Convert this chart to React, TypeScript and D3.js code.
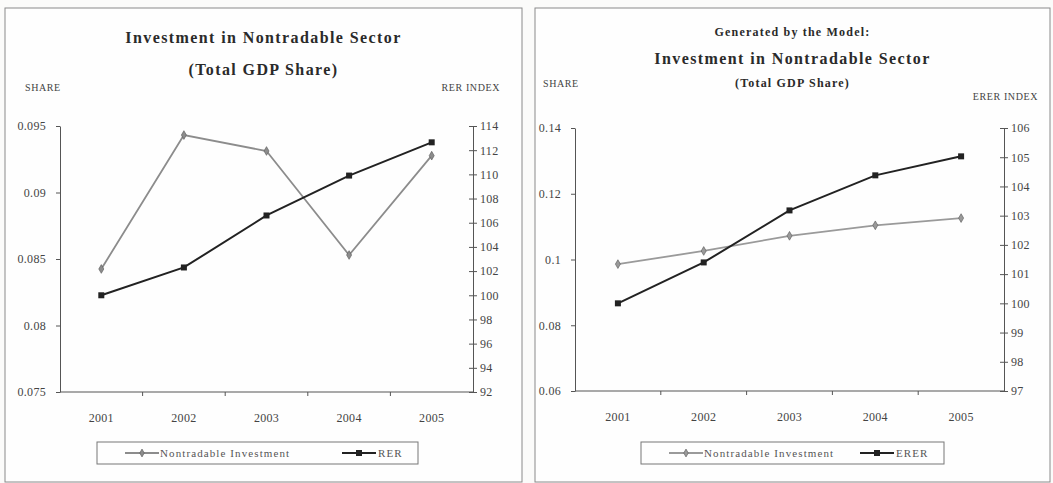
import React, { useEffect, useRef } from "react"
import * as d3 from "d3"

// shared categories
const years = ["2001", "2002", "2003", "2004", "2005"]

// left panel: observed data
const obsInvestment = [0.08425, 0.09432, 0.09312, 0.0853, 0.09277]
const obsRer = [100.0, 102.3, 106.6, 109.9, 112.65]
const obsShareTicks = [0.075, 0.08, 0.085, 0.09, 0.095]
const obsIndexTicks = [92, 94, 96, 98, 100, 102, 104, 106, 108, 110, 112, 114]

// right panel: model generated
const modelInvestment = [0.0986, 0.1026, 0.1072, 0.1104, 0.1126]
const modelErer = [100.0, 101.4, 103.18, 104.38, 105.03]
const modelShareTicks = [0.06, 0.08, 0.1, 0.12, 0.14]
const modelIndexTicks = [97, 98, 99, 100, 101, 102, 103, 104, 105, 106]

const FONT = "'Liberation Serif', 'DejaVu Serif', serif"

interface PanelConfig {
  x0: number
  x1: number
  plotLeft: number
  plotRight: number
  plotTop: number
  plotBottom: number
  titles: { text: string; y: number; size: number; spacing: number }[]
  shareLabelX: number
  shareLabelY: number
  indexLabel: string
  indexLabelX: number
  indexLabelY: number
  investment: number[]
  index: number[]
  shareTicks: number[]
  indexTicks: number[]
  shareFormat: (v: number) => string
  indexName: string
  legend: { x: number; w: number; item2: number }
  invColor: string
}

const App: React.FC = () => {
  const svgRef = useRef<SVGSVGElement | null>(null)

  useEffect(() => {
    if (!svgRef.current) return
    const svg = d3.select(svgRef.current)
    svg.selectAll("*").remove()

    svg.append("rect").attr("width", 1053).attr("height", 483).attr("fill", "#fbfbfa")

    const drawPanel = (c: PanelConfig) => {
      const g = svg.append("g")

      // panel frame
      g.append("rect")
        .attr("x", c.x0)
        .attr("y", 8)
        .attr("width", c.x1 - c.x0)
        .attr("height", 474)
        .attr("fill", "#fefefe")
        .attr("stroke", "#8a8a8a")
        .attr("stroke-width", 1)

      c.titles.forEach((t) => {
        g.append("text")
          .attr("x", (c.x0 + c.x1) / 2)
          .attr("y", t.y)
          .attr("text-anchor", "middle")
          .attr("font-family", FONT)
          .attr("font-weight", "bold")
          .attr("font-size", t.size)
          .attr("letter-spacing", t.spacing)
          .attr("fill", "#2a2a2a")
          .text(t.text)
      })

      g.append("text")
        .attr("x", c.shareLabelX)
        .attr("y", c.shareLabelY)
        .attr("font-family", FONT)
        .attr("font-size", 10)
        .attr("letter-spacing", 0.6)
        .attr("fill", "#444")
        .text("SHARE")

      g.append("text")
        .attr("x", c.indexLabelX)
        .attr("y", c.indexLabelY)
        .attr("text-anchor", "end")
        .attr("font-family", FONT)
        .attr("font-size", 10)
        .attr("letter-spacing", 0.6)
        .attr("fill", "#444")
        .text(c.indexLabel)

      const x = d3.scaleBand().domain(years).range([c.plotLeft, c.plotRight])
      const yL = d3
        .scaleLinear()
        .domain([c.shareTicks[0], c.shareTicks[c.shareTicks.length - 1]])
        .range([c.plotBottom, c.plotTop])
      const yR = d3
        .scaleLinear()
        .domain([c.indexTicks[0], c.indexTicks[c.indexTicks.length - 1]])
        .range([c.plotBottom, c.plotTop])

      // left axis
      const leftAxis = g
        .append("g")
        .attr("transform", `translate(${c.plotLeft},0)`)
        .call(
          d3
            .axisLeft(yL)
            .tickValues(c.shareTicks)
            .tickFormat((v) => c.shareFormat(v as number))
            .tickSize(4)
            .tickPadding(10)
            .tickSizeOuter(0),
        )
      leftAxis.select(".domain").attr("stroke", "#555")
      leftAxis.selectAll("line").attr("stroke", "#555")
      leftAxis
        .selectAll("text")
        .attr("font-family", FONT)
        .attr("font-size", 12)
        .attr("letter-spacing", 0.3)
        .attr("fill", "#444")

      // right axis, ticks crossing the line
      const rightAxis = g
        .append("g")
        .attr("transform", `translate(${c.plotRight},0)`)
        .call(d3.axisRight(yR).tickValues(c.indexTicks).tickFormat(d3.format("d")).tickSize(4).tickSizeOuter(0))
      rightAxis.select(".domain").attr("stroke", "#555")
      rightAxis.selectAll("line").attr("stroke", "#555").attr("x1", -4)
      rightAxis
        .selectAll("text")
        .attr("font-family", FONT)
        .attr("font-size", 12)
        .attr("letter-spacing", 0.3)
        .attr("fill", "#444")
        .attr("x", 7)

      // bottom axis with ticks between categories
      g.append("line")
        .attr("x1", c.plotLeft)
        .attr("x2", c.plotRight)
        .attr("y1", c.plotBottom)
        .attr("y2", c.plotBottom)
        .attr("stroke", "#555")
      years.slice(1).forEach((yr) => {
        const bx = x(yr) ?? 0
        g.append("line")
          .attr("x1", bx)
          .attr("x2", bx)
          .attr("y1", c.plotBottom)
          .attr("y2", c.plotBottom + 4)
          .attr("stroke", "#555")
      })
      years.forEach((yr) => {
        g.append("text")
          .attr("x", (x(yr) ?? 0) + x.bandwidth() / 2)
          .attr("y", c.plotBottom + 30)
          .attr("text-anchor", "middle")
          .attr("font-family", FONT)
          .attr("font-size", 12)
          .attr("letter-spacing", 0.3)
          .attr("fill", "#444")
          .text(yr)
      })

      const cx = (i: number) => (x(years[i]) ?? 0) + x.bandwidth() / 2

      // investment line
      const invLine = d3
        .line<number>()
        .x((_, i) => cx(i))
        .y((d) => yL(d))
      g.append("path")
        .datum(c.investment)
        .attr("fill", "none")
        .attr("stroke", c.invColor)
        .attr("stroke-width", 1.8)
        .attr("d", invLine)
      g.selectAll(".inv-dot")
        .data(c.investment)
        .enter()
        .append("path")
        .attr("d", d3.symbol(d3.symbolDiamond, 22)())
        .attr("transform", (d, i) => `translate(${cx(i)},${yL(d)})`)
        .attr("fill", c.invColor)
        .attr("stroke", "#555")
        .attr("stroke-width", 0.6)

      // index line
      const idxLine = d3
        .line<number>()
        .x((_, i) => cx(i))
        .y((d) => yR(d))
      g.append("path")
        .datum(c.index)
        .attr("fill", "none")
        .attr("stroke", "#222")
        .attr("stroke-width", 2)
        .attr("d", idxLine)
      g.selectAll(".idx-dot")
        .data(c.index)
        .enter()
        .append("rect")
        .attr("x", (_, i) => cx(i) - 3)
        .attr("y", (d) => yR(d) - 3)
        .attr("width", 6)
        .attr("height", 6)
        .attr("fill", "#222")

      // legend
      const lg = g.append("g")
      lg.append("rect")
        .attr("x", c.legend.x)
        .attr("y", 442)
        .attr("width", c.legend.w)
        .attr("height", 22)
        .attr("fill", "#fefefe")
        .attr("stroke", "#777")
      const ly = 453
      const lx1 = c.legend.x + 28
      lg.append("line")
        .attr("x1", lx1)
        .attr("x2", lx1 + 34)
        .attr("y1", ly)
        .attr("y2", ly)
        .attr("stroke", c.invColor)
        .attr("stroke-width", 1.8)
      lg.append("path")
        .attr("d", d3.symbol(d3.symbolDiamond, 18)())
        .attr("transform", `translate(${lx1 + 17},${ly})`)
        .attr("fill", c.invColor)
        .attr("stroke", "#555")
        .attr("stroke-width", 0.6)
      lg.append("text")
        .attr("x", lx1 + 35)
        .attr("y", ly + 4)
        .attr("font-family", FONT)
        .attr("font-size", 11)
        .attr("letter-spacing", 1.1)
        .attr("fill", "#555")
        .text("Nontradable Investment")
      const lx2 = c.legend.item2
      lg.append("line")
        .attr("x1", lx2)
        .attr("x2", lx2 + 34)
        .attr("y1", ly)
        .attr("y2", ly)
        .attr("stroke", "#222")
        .attr("stroke-width", 2)
      lg.append("rect").attr("x", lx2 + 14).attr("y", ly - 3).attr("width", 6).attr("height", 6).attr("fill", "#222")
      lg.append("text")
        .attr("x", lx2 + 36)
        .attr("y", ly + 4)
        .attr("font-family", FONT)
        .attr("font-size", 11)
        .attr("letter-spacing", 1.1)
        .attr("fill", "#555")
        .text(c.indexName)
    }

    drawPanel({
      x0: 5,
      x1: 522,
      plotLeft: 60,
      plotRight: 473,
      plotTop: 126,
      plotBottom: 392,
      titles: [
        { text: "Investment in Nontradable Sector", y: 43, size: 16, spacing: 1.4 },
        { text: "(Total GDP Share)", y: 75, size: 16, spacing: 1.4 },
      ],
      shareLabelX: 25,
      shareLabelY: 91,
      indexLabel: "RER INDEX",
      indexLabelX: 500,
      indexLabelY: 91,
      investment: obsInvestment,
      index: obsRer,
      shareTicks: obsShareTicks,
      indexTicks: obsIndexTicks,
      shareFormat: (v) => String(+v.toFixed(3)),
      indexName: "RER",
      legend: { x: 97, w: 321, item2: 342 },
      invColor: "#8c8c8c",
    })

    drawPanel({
      x0: 535,
      x1: 1050,
      plotLeft: 575,
      plotRight: 1004,
      plotTop: 128,
      plotBottom: 391,
      titles: [
        { text: "Generated by the Model:", y: 36, size: 12, spacing: 1.2 },
        { text: "Investment in Nontradable Sector", y: 64, size: 16, spacing: 1.4 },
        { text: "(Total GDP Share)", y: 87, size: 12, spacing: 1.2 },
      ],
      shareLabelX: 543,
      shareLabelY: 87,
      indexLabel: "ERER INDEX",
      indexLabelX: 1038,
      indexLabelY: 100,
      investment: modelInvestment,
      index: modelErer,
      shareTicks: modelShareTicks,
      indexTicks: modelIndexTicks,
      shareFormat: (v) => String(+v.toFixed(2)),
      indexName: "ERER",
      legend: { x: 641, w: 303, item2: 860 },
      invColor: "#9a9a9a",
    })
  }, [])

  return (
    <svg
      ref={svgRef}
      width={1053}
      height={483}
      style={{ position: "absolute", left: 0, top: 0, display: "block" }}
    ></svg>
  )
}

export default App
